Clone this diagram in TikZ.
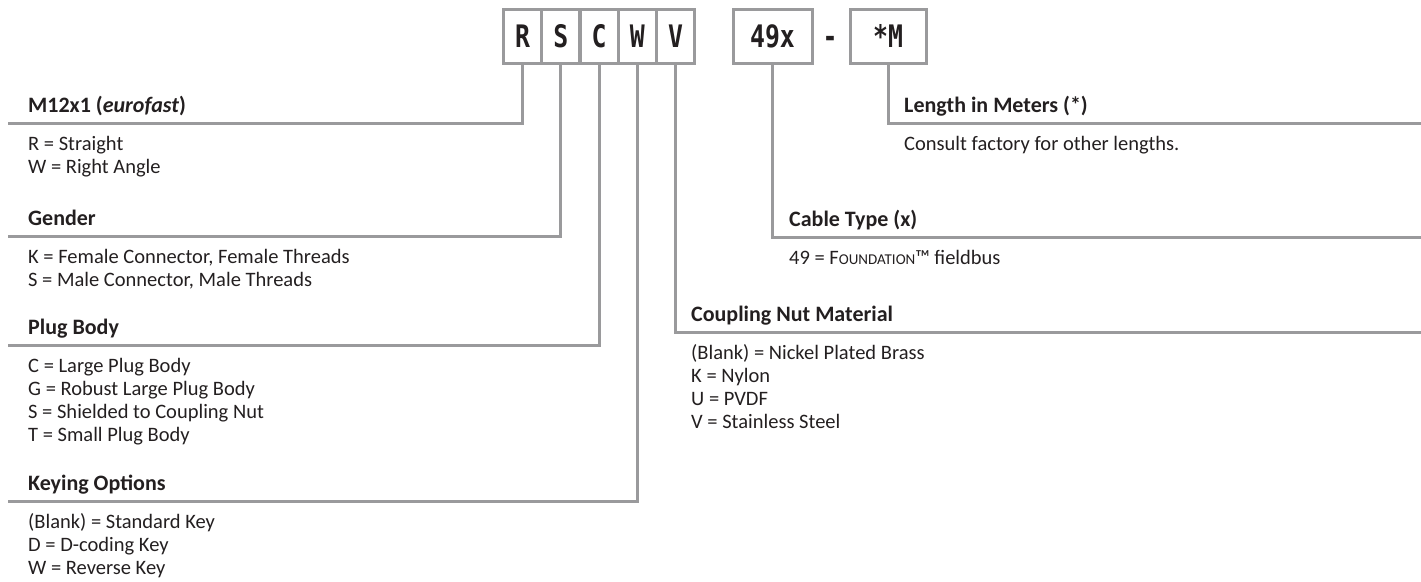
\documentclass[tikz,border=0pt]{standalone}
\usepackage{fontspec}
\setmainfont{Carlito}
\newfontfamily\codefont[FakeStretch=0.8]{DejaVu Sans Mono}
\definecolor{linegray}{HTML}{9A9A9C}
\definecolor{ink}{HTML}{231F20}
\tikzset{
  conn/.style={draw=linegray, line width=3pt},
  codebox/.style={draw=linegray, line width=3pt, minimum height=54pt, minimum width=38.5pt, inner sep=0pt, text=ink, font=\codefont\bfseries\fontsize{31}{31}\selectfont},
  codetext/.style={inner sep=0pt, text=ink, font=\codefont\bfseries\fontsize{31}{31}\selectfont},
  head/.style={anchor=base west, inner sep=0pt, text=ink, font=\bfseries\fontsize{22}{26}\selectfont},
  body/.style={anchor=base west, inner sep=0pt, text=ink, font=\fontsize{20.5}{24}\selectfont}
}
\begin{document}
\begin{tikzpicture}[x=1pt,y=-1pt]
\useasboundingbox (0,0) rectangle (1421,581);
% code boxes
\node[codebox] (bR) at (522.5,36) {R};
\node[codebox] (bS) at (560.8,36) {S};
\node[codebox] (bC) at (599.1,36) {C};
\node[codebox] (bW) at (637.4,36) {W};
\node[codebox] (bV) at (675.7,36) {V};
\node[codebox, minimum width=79pt] (bX) at (772.5,36) {49x};
\node[codetext] (dash) at (830,42) {-};
\node[codebox, minimum width=76pt] (bM) at (888,36) {*M};
% connector ends
\coordinate (eA) at (8,123);
\coordinate (eB) at (8,236);
\coordinate (eC) at (8,345);
\coordinate (eD) at (8,501);
\coordinate (eE) at (1421,332);
\coordinate (eF) at (1421,237);
\coordinate (eG) at (1421,123);
% connectors
\draw[conn] (bR.south) |- (eA);
\draw[conn] (bS.south) |- (eB);
\draw[conn] (bC.south) |- (eC);
\draw[conn] (bW.south) |- (eD);
\draw[conn] (bV.south) |- (eE);
\draw[conn] (bX.south) |- (eF);
\draw[conn] (bM.south) |- (eG);
% left texts
\node[head] (hA) at (28,112) {M12x1 (\textit{eurofast})};
\node[body] (tA1) at (28,150) {R = Straight};
\node[body] (tA2) at (28,173) {W = Right Angle};
\node[head] (hB) at (28,225) {Gender};
\node[body] (tB1) at (28,263) {K = Female Connector, Female Threads};
\node[body] (tB2) at (28,286) {S = Male Connector, Male Threads};
\node[head] (hC) at (28,334) {Plug Body};
\node[body] (tC1) at (28,372) {C = Large Plug Body};
\node[body] (tC2) at (28,395) {G = Robust Large Plug Body};
\node[body] (tC3) at (28,418) {S = Shielded to Coupling Nut};
\node[body] (tC4) at (28,441) {T = Small Plug Body};
\node[head] (hD) at (28,490) {Keying Options};
\node[body] (tD1) at (28,528) {(Blank) = Standard Key};
\node[body] (tD2) at (28,551) {D = D-coding Key};
\node[body] (tD3) at (28,574) {W = Reverse Key};
% right texts
\node[head] (hG) at (904,112) {Length in Meters (*)};
\node[body] (tG1) at (904,150) {Consult factory for other lengths.};
\node[head] (hF) at (789,226) {Cable Type (x)};
\node[body] (tF1) at (789,264) {49 = F{\fontsize{15}{18}\selectfont OUNDATION}™ fieldbus};
\node[head] (hE) at (691,321) {Coupling Nut Material};
\node[body] (tE1) at (691,359) {(Blank) = Nickel Plated Brass};
\node[body] (tE2) at (691,382) {K = Nylon};
\node[body] (tE3) at (691,405) {U = PVDF};
\node[body] (tE4) at (691,428) {V = Stainless Steel};
\end{tikzpicture}
\end{document}
